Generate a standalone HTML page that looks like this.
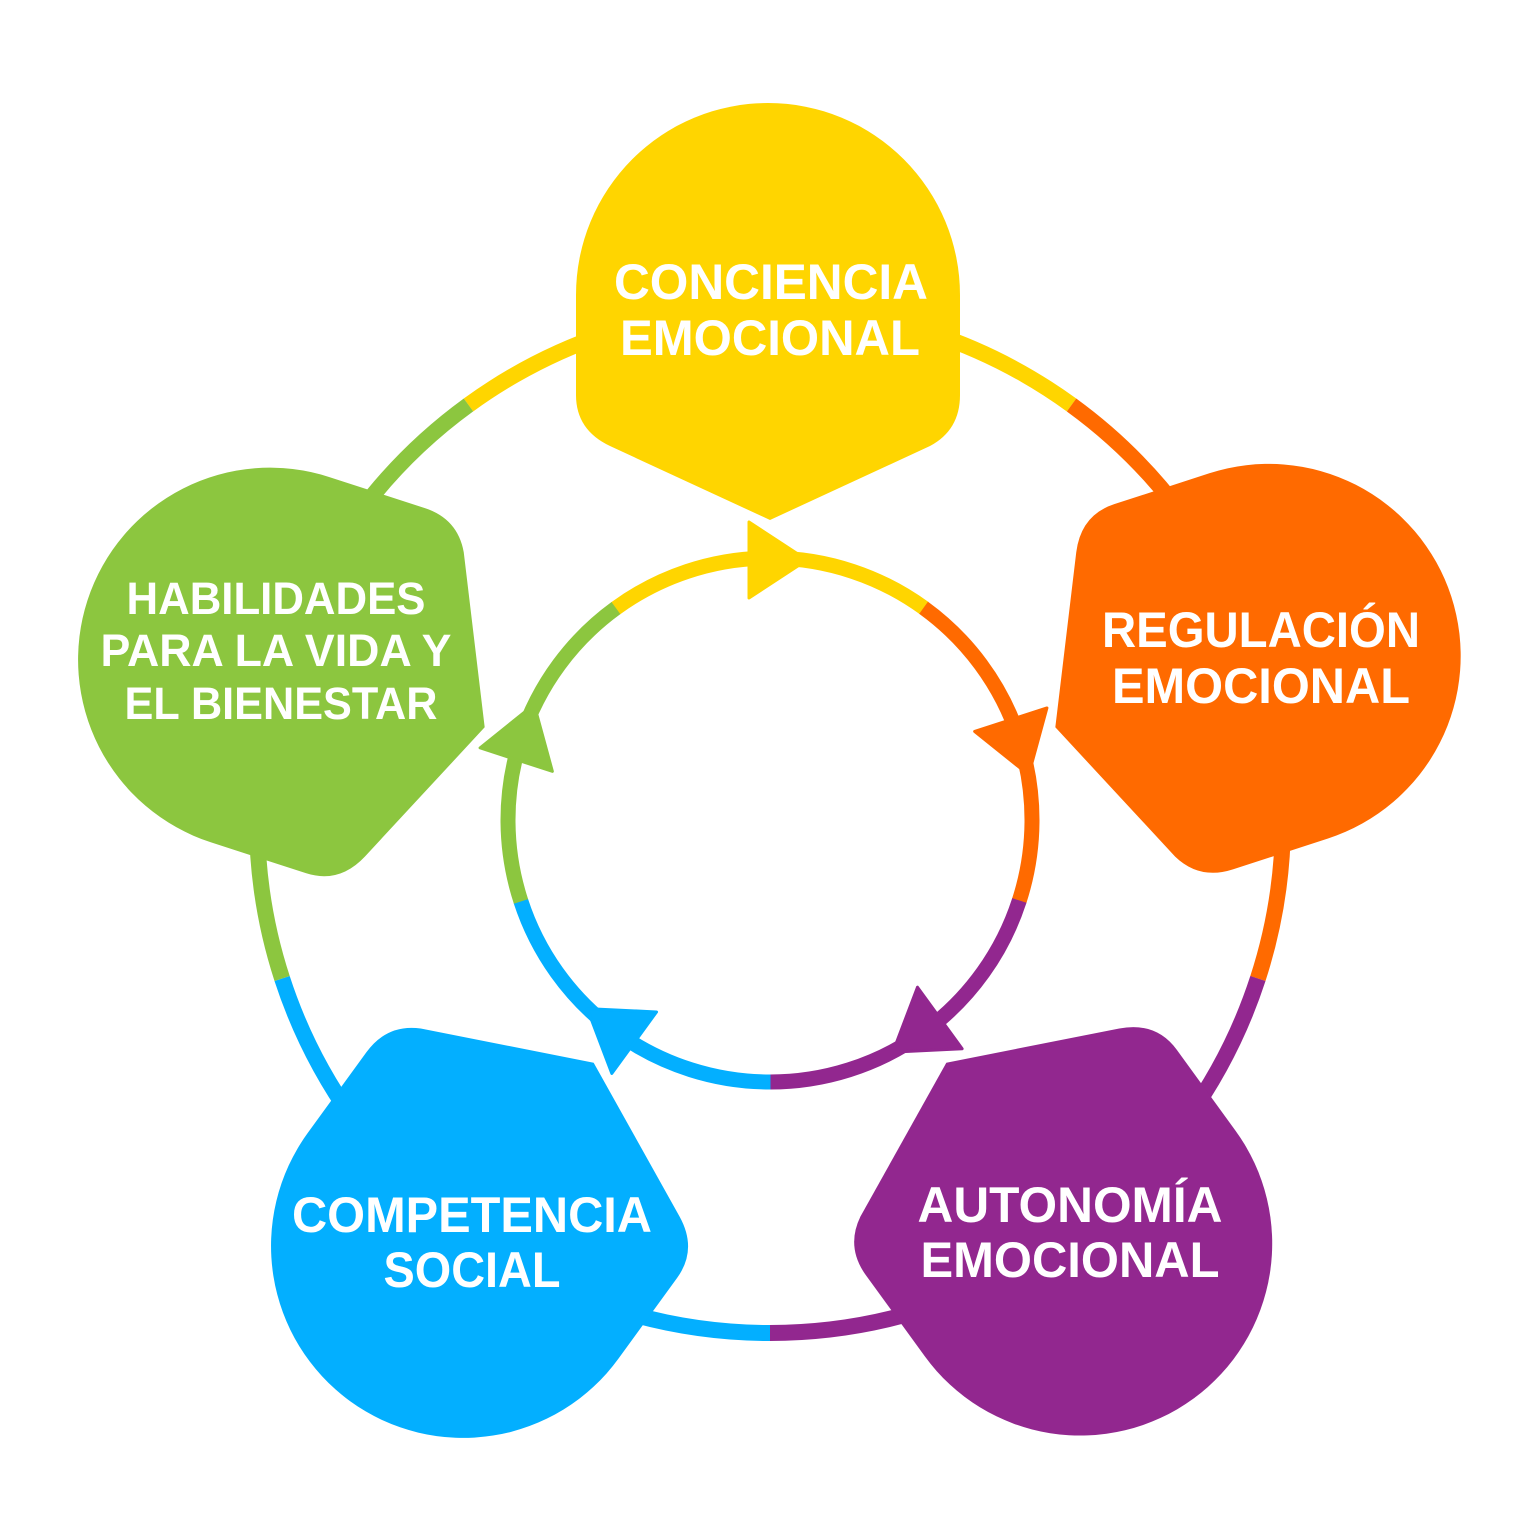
<!DOCTYPE html>
<html><head><meta charset="utf-8"><style>html,body{margin:0;padding:0;background:#fff}svg{display:block}
text{font-family:"Liberation Sans",sans-serif;font-weight:bold;fill:#fff;text-anchor:middle}</style></head>
<body>
<svg width="1536" height="1536" viewBox="0 0 1536 1536" xmlns="http://www.w3.org/2000/svg">
<defs>
<path id="sh" d="M576,295 A192,192 0 0 1 960,295 L960,395 Q960,430 930,446 L770,520 L610,446 Q576,430 576,395 Z"/>
<polygon id="ar" points="749,522 749,598 807,560"/>
</defs>
<g fill="none" stroke-width="16">
<circle cx="770" cy="820" r="513" pathLength="5" stroke-dasharray="1 4" stroke="#FFD500" transform="rotate(-126 770 820)"/>
<circle cx="770" cy="820" r="513" pathLength="5" stroke-dasharray="1 4" stroke="#FF6A00" transform="rotate(-54 770 820)"/>
<circle cx="770" cy="820" r="513" pathLength="5" stroke-dasharray="1 4" stroke="#92278F" transform="rotate(18 770 820)"/>
<circle cx="770" cy="820" r="513" pathLength="5" stroke-dasharray="1 4" stroke="#03AFFF" transform="rotate(90 770 820)"/>
<circle cx="770" cy="820" r="513" pathLength="5" stroke-dasharray="1 4" stroke="#8CC63F" transform="rotate(162 770 820)"/>
</g>
<g stroke-width="15" fill="none">
<circle cx="770" cy="820" r="262" pathLength="5" stroke-dasharray="1 4" stroke="#FFD500" transform="rotate(-126 770 820)"/>
<circle cx="770" cy="820" r="262" pathLength="5" stroke-dasharray="1 4" stroke="#FF6A00" transform="rotate(-54 770 820)"/>
<circle cx="770" cy="820" r="262" pathLength="5" stroke-dasharray="1 4" stroke="#92278F" transform="rotate(18 770 820)"/>
<circle cx="770" cy="820" r="262" pathLength="5" stroke-dasharray="1 4" stroke="#03AFFF" transform="rotate(90 770 820)"/>
<circle cx="770" cy="820" r="262" pathLength="5" stroke-dasharray="1 4" stroke="#8CC63F" transform="rotate(162 770 820)"/>
</g>
<use href="#sh" fill="#FFD500"/>
<use href="#sh" fill="#FF6A00" transform="rotate(72 770 820)"/>
<use href="#sh" fill="#92278F" transform="rotate(144 770 820)"/>
<use href="#sh" fill="#03AFFF" transform="rotate(216 770 820)"/>
<use href="#sh" fill="#8CC63F" transform="rotate(288 770 820)"/>
<use href="#ar" fill="#FFD500" stroke="#FFD500" stroke-width="3" stroke-linejoin="round"/>
<use href="#ar" fill="#FF6A00" stroke="#FF6A00" stroke-width="3" stroke-linejoin="round" transform="rotate(72 770 820)"/>
<use href="#ar" fill="#92278F" stroke="#92278F" stroke-width="3" stroke-linejoin="round" transform="rotate(144 770 820)"/>
<use href="#ar" fill="#03AFFF" stroke="#03AFFF" stroke-width="3" stroke-linejoin="round" transform="rotate(216 770 820)"/>
<use href="#ar" fill="#8CC63F" stroke="#8CC63F" stroke-width="3" stroke-linejoin="round" transform="rotate(288 770 820)"/>
<g font-size="50">
<text x="771" y="299" textLength="314" lengthAdjust="spacingAndGlyphs">CONCIENCIA</text>
<text x="770" y="355" textLength="300" lengthAdjust="spacingAndGlyphs">EMOCIONAL</text>
<text x="1261" y="647" textLength="318" lengthAdjust="spacingAndGlyphs">REGULACIÓN</text>
<text x="1261" y="703" textLength="298" lengthAdjust="spacingAndGlyphs">EMOCIONAL</text>
<text x="1070" y="1222" textLength="305" lengthAdjust="spacingAndGlyphs">AUTONOMÍA</text>
<text x="1070" y="1277" textLength="299" lengthAdjust="spacingAndGlyphs">EMOCIONAL</text>
<text x="472" y="1232" textLength="360" lengthAdjust="spacingAndGlyphs">COMPETENCIA</text>
<text x="472" y="1287" textLength="177" lengthAdjust="spacingAndGlyphs">SOCIAL</text>
</g>
<g font-size="45">
<text x="276" y="614" textLength="299" lengthAdjust="spacingAndGlyphs">HABILIDADES</text>
<text x="276" y="666" textLength="351" lengthAdjust="spacingAndGlyphs">PARA LA VIDA Y</text>
<text x="281" y="719" textLength="313" lengthAdjust="spacingAndGlyphs">EL BIENESTAR</text>
</g>
</svg>
</body></html>
